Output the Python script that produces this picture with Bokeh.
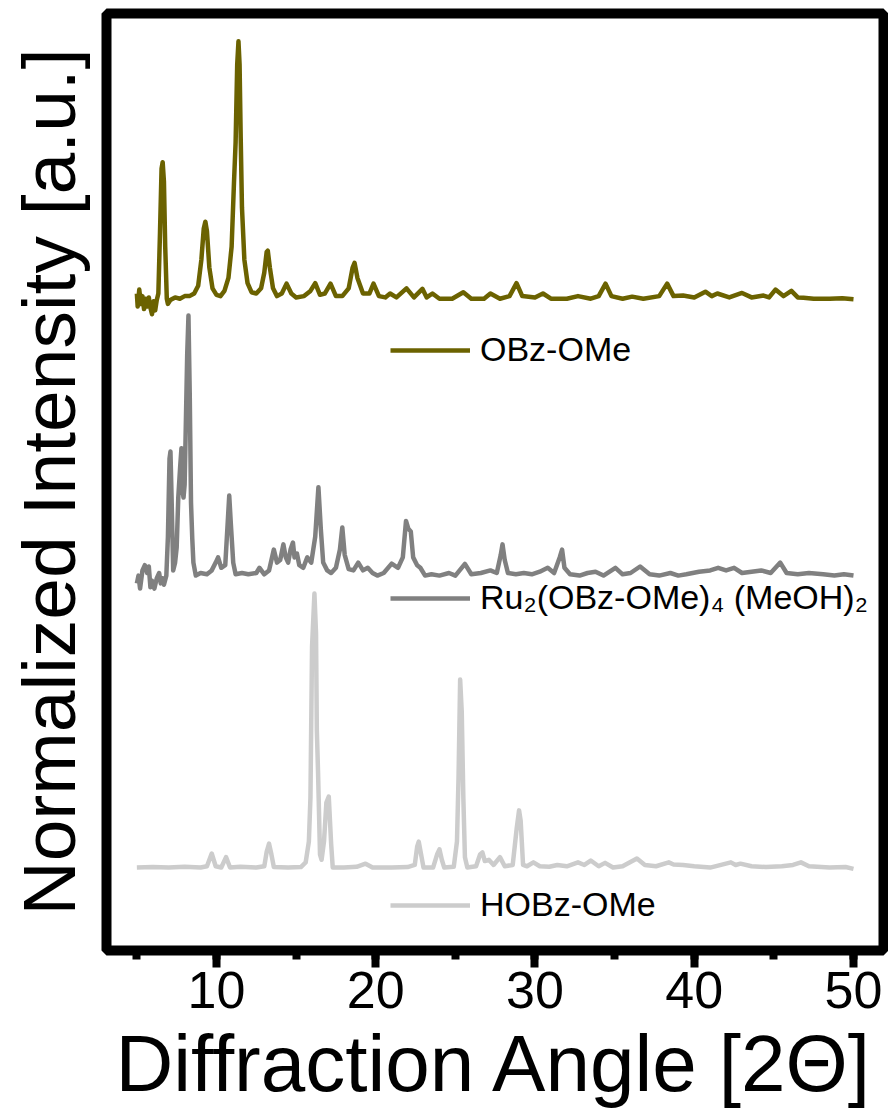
from bokeh.plotting import figure
from bokeh.models import Range1d, SingleIntervalTicker, FixedTicker, Legend, LegendItem
from bokeh.embed import file_html
from bokeh.resources import INLINE

# ---------------- data ----------------
# OBz-OMe (top trace), normalised intensity
angle_obz = [5.0, 5.05, 5.15, 5.25, 5.35, 5.45, 5.55, 5.65, 5.75, 5.85, 5.95, 6.05, 6.15, 6.25, 6.35,
             6.45, 6.55, 6.62, 6.70, 6.78, 6.88, 6.95, 7.1, 7.4, 7.7, 8.0, 8.3, 8.6, 8.85, 9.05, 9.2,
             9.3, 9.4, 9.55, 9.75, 10.0, 10.25, 10.5, 10.75, 10.95, 11.1, 11.2, 11.3, 11.38, 11.45,
             11.52, 11.6, 11.75, 11.95, 12.2, 12.5, 12.8, 13.0, 13.15, 13.22, 13.35, 13.55, 13.8,
             14.1, 14.4, 14.7, 15.0, 15.5, 15.9, 16.2, 16.5, 16.8, 17.16, 17.5, 17.9, 18.3, 18.55,
             18.67, 18.85, 19.2, 19.6, 19.86, 20.2, 20.6, 20.9, 21.3, 21.93, 22.4, 22.93, 23.2, 23.56,
             24.0, 24.8, 25.5, 26.0, 26.8, 27.2, 27.8, 28.4, 28.84, 29.2, 30.0, 30.5, 31.0, 32.0,
             32.7, 33.5, 34.0, 34.43, 34.8, 35.5, 36.1, 36.8, 37.8, 38.3, 38.7, 39.3, 40.0, 40.7,
             41.1, 41.45, 42.2, 43.0, 43.6, 44.35, 44.7, 45.1, 45.6, 46.1, 46.5, 46.86, 47.5, 48.5,
             49.3, 50.0]
int_obz = [0.02, -0.03, 0.035, -0.02, 0.01, -0.04, 0.0, -0.03, 0.005, -0.035, -0.06, -0.01, -0.045, -0.005, 0.02,
           0.25, 0.50, 0.525, 0.45, 0.2, 0.0, -0.02, -0.005, 0.005, 0.0, 0.01, 0.01, 0.02, 0.05, 0.15, 0.27,
           0.296, 0.26, 0.12, 0.04, 0.015, 0.01, 0.03, 0.08, 0.2, 0.45, 0.6, 0.9, 0.99, 0.9,
           0.62, 0.35, 0.15, 0.06, 0.025, 0.02, 0.04, 0.1, 0.18, 0.185, 0.12, 0.04, 0.01,
           0.02, 0.058, 0.02, 0.005, 0.01, 0.03, 0.06, 0.015, 0.02, 0.058, 0.01, 0.01, 0.04, 0.12,
           0.138, 0.08, 0.02, 0.02, 0.058, 0.01, 0.005, 0.02, 0.005, 0.04, 0.005, 0.038, 0.005, 0.02,
           0.0, 0.0, 0.025, 0.0, 0.0, 0.02, 0.0, 0.01, 0.06, 0.01, 0.005, 0.02, 0.0, 0.0,
           0.01, 0.0, 0.01, 0.058, 0.01, 0.0, 0.008, 0.0, 0.01, 0.058, 0.01, 0.012, 0.005, 0.027,
           0.01, 0.02, 0.005, 0.022, 0.005, 0.012, 0.005, 0.035, 0.01, 0.03, 0.005, 0.004, 0.0, 0.0,
           0.002, -0.002]

# Ru2(OBz-OMe)4(MeOH)2 (middle trace)
angle_ru = [5.0, 5.1, 5.2, 5.35, 5.5, 5.65, 5.75, 5.85, 5.95, 6.1, 6.25, 6.4, 6.5, 6.6, 6.7, 6.85,
            6.95, 7.05, 7.11, 7.18, 7.28, 7.4, 7.5, 7.6, 7.72, 7.8, 7.88, 7.93, 8.0, 8.08, 8.16, 8.24,
            8.32, 8.4, 8.48, 8.55, 8.7, 9.0, 9.4, 9.7, 9.95, 10.1, 10.3, 10.55, 10.7, 10.8, 10.9,
            11.05, 11.2, 11.6, 12.0, 12.5, 12.7, 13.0, 13.3, 13.6, 13.8, 14.0, 14.2, 14.35, 14.5,
            14.65, 14.8, 14.9, 15.05, 15.2, 15.45, 15.7, 15.95, 16.2, 16.4, 16.55, 16.7, 16.95, 17.2,
            17.5, 17.75, 17.9, 18.05, 18.3, 18.6, 18.9, 19.2, 19.5, 19.8, 20.1, 20.5, 21.0, 21.4,
            21.7, 21.9, 22.05, 22.2, 22.35, 22.6, 22.8, 23.1, 23.5, 24.0, 24.6, 25.0, 25.6, 26.0,
            26.6, 27.2, 27.6, 27.85, 27.96, 28.1, 28.3, 28.8, 29.3, 29.8, 30.3, 30.8, 31.2, 31.55,
            31.7, 31.85, 32.2, 32.8, 33.3, 33.8, 34.3, 35.05, 35.5, 36.0, 36.6, 37.2, 37.8, 38.5,
            39.0, 39.5, 40.3, 41.0, 41.5, 42.0, 42.5, 43.0, 43.6, 44.2, 44.8, 45.4, 45.8, 46.5,
            47.2, 48.1, 48.8, 49.4, 50.0]
int_ru = [-0.03, 0.0, -0.05, 0.02, 0.04, 0.01, 0.035, -0.045, -0.02, -0.05, -0.01, 0.01, -0.03, -0.01, -0.035, 0.0,
          0.15, 0.45, 0.477, 0.3, 0.02, 0.05, 0.108, 0.3, 0.42, 0.49, 0.32, 0.3, 0.35, 0.6, 0.85, 1.0,
          0.7, 0.28, 0.14, 0.05, 0.0, 0.01, 0.005, 0.02, 0.05, 0.07, 0.03, 0.04, 0.2, 0.308, 0.2,
          0.05, 0.005, 0.01, 0.005, 0.01, 0.03, 0.005, 0.02, 0.1, 0.05, 0.06, 0.12, 0.07, 0.05,
          0.1, 0.127, 0.07, 0.085, 0.04, 0.03, 0.07, 0.05, 0.15, 0.34, 0.18, 0.05, 0.02, 0.01,
          0.03, 0.1, 0.185, 0.08, 0.025, 0.02, 0.05, 0.02, 0.03, 0.01, 0.0, 0.01, 0.046, 0.03,
          0.07, 0.21, 0.18, 0.17, 0.07, 0.04, 0.03, 0.0, 0.005, 0.0, 0.01, 0.0, 0.045, 0.005,
          0.01, 0.02, 0.01, 0.08, 0.12, 0.06, 0.01, 0.005, 0.01, 0.005, 0.015, 0.03, 0.01, 0.07,
          0.1, 0.03, 0.005, 0.0, 0.01, 0.015, 0.0, 0.03, 0.005, 0.01, 0.035, 0.005, 0.0, 0.01,
          0.0, 0.005, 0.015, 0.02, 0.03, 0.02, 0.03, 0.01, 0.015, 0.02, 0.01, 0.05, 0.01, 0.005,
          0.01, 0.005, 0.0, 0.005, 0.0]

# HOBz-OMe (bottom trace)
angle_hobz = [5.0, 6.0, 7.0, 8.0, 9.0, 9.4, 9.7, 9.95, 10.3, 10.6, 10.85, 11.5, 12.5, 13.0, 13.15, 13.3,
              13.45, 13.6, 14.5, 15.3, 15.6, 15.8, 15.9, 16.0, 16.15, 16.25, 16.3, 16.38, 16.5, 16.6,
              16.75, 16.9, 17.05, 17.2, 17.3, 18.0, 18.8, 19.36, 19.8, 21.0, 22.0, 22.45, 22.6, 22.7,
              22.85, 23.0, 23.6, 23.85, 24.0, 24.15, 24.3, 24.9, 25.1, 25.2, 25.3, 25.4, 25.5, 25.6,
              25.75, 26.3, 26.55, 26.7, 26.85, 27.1, 27.4, 27.8, 28.1, 28.6, 28.85, 29.0, 29.1, 29.25,
              29.5, 29.9, 30.3, 30.9, 31.4, 32.0, 32.7, 33.1, 33.5, 34.0, 34.4, 34.9, 35.5, 36.4, 36.9,
              37.6, 38.4, 38.7, 39.3, 40.0, 41.0, 42.3, 42.6, 42.9, 43.6, 44.5, 45.5, 46.2, 46.7, 47.2,
              48.5, 49.5, 50.0]
int_hobz = [0.0, 0.002, 0.0, 0.003, 0.0, 0.005, 0.054, 0.005, 0.0, 0.04, 0.0, 0.003, 0.0, 0.005, 0.06, 0.092,
            0.05, 0.002, 0.0, 0.002, 0.02, 0.1, 0.27, 0.85, 1.054, 0.9, 0.53, 0.36, 0.05, 0.03,
            0.1, 0.25, 0.273, 0.09, 0.0, 0.0, 0.003, 0.015, 0.0, 0.0, 0.002, 0.01, 0.08, 0.1,
            0.05, 0.0, 0.0, 0.05, 0.07, 0.03, 0.0, 0.003, 0.1, 0.35, 0.723, 0.6, 0.27, 0.04,
            0.0, 0.005, 0.05, 0.058, 0.025, 0.03, 0.01, 0.04, 0.005, 0.01, 0.15, 0.22, 0.18, 0.01,
            0.005, 0.02, 0.005, 0.003, 0.01, 0.005, 0.02, 0.01, 0.027, 0.005, 0.018, 0.0, 0.005, 0.035, 0.01,
            0.005, 0.02, 0.012, 0.01, 0.005, 0.0, 0.02, 0.01, 0.015, 0.005, 0.002, 0.005, 0.01, 0.02, 0.005,
            0.0, 0.002, -0.005]

labels = ["OBz-OMe", "Ru\u2082(OBz-OMe)\u2084 (MeOH)\u2082", "HOBz-OMe"]
colors = ["#6b6200", "#808080", "#cccccc"]
offsets = [2.188, 1.123, 0.0]   # vertical stacking of the traces

x_ticks_interval = 10

FONT = "Liberation Sans"

p = figure(frame_width=777, frame_height=937,
           x_range=Range1d(3.093, 51.884), y_range=Range1d(-0.319, 3.285),
           output_backend="svg", toolbar_location=None,
           min_border_left=106, min_border_top=13, min_border_right=5, min_border_bottom=0)

p.outline_line_color = "black"
p.outline_line_width = 10
p.xgrid.visible = False
p.ygrid.visible = False
p.background_fill_color = "white"
p.border_fill_color = "white"

# x axis
p.xaxis.ticker = SingleIntervalTicker(interval=x_ticks_interval, num_minor_ticks=2)
p.xaxis.axis_line_color = None
p.xaxis.major_tick_line_width = 8
p.xaxis.minor_tick_line_width = 8
p.xaxis.major_tick_line_color = "black"
p.xaxis.minor_tick_line_color = "black"
p.xaxis.major_tick_in = 0
p.xaxis.major_tick_out = 17
p.xaxis.minor_tick_in = 0
p.xaxis.minor_tick_out = 9
p.xaxis.major_label_text_font = FONT
p.xaxis.major_label_text_font_size = "52px"
p.xaxis.major_label_text_color = "black"
p.xaxis.major_label_standoff = 4
p.xaxis.axis_label = "Diffraction Angle [2\u0398]"
p.xaxis.axis_label_text_font = FONT
p.xaxis.axis_label_text_font_size = "80px"
p.xaxis.axis_label_text_font_style = "normal"
p.xaxis.axis_label_text_color = "black"
p.xaxis.axis_label_standoff = 8

# y axis (title only)
p.yaxis.ticker = FixedTicker(ticks=[])
p.yaxis.axis_line_color = None
p.yaxis.major_tick_line_color = None
p.yaxis.minor_tick_line_color = None
p.yaxis.axis_label = "Normalized Intensity [a.u.]"
p.yaxis.axis_label_text_font = FONT
p.yaxis.axis_label_text_font_size = "75px"
p.yaxis.axis_label_text_font_style = "normal"
p.yaxis.axis_label_text_color = "black"
p.yaxis.axis_label_standoff = 16

series = [(angle_obz, int_obz), (angle_ru, int_ru), (angle_hobz, int_hobz)]
legend_y = [581, 333, 26]   # screen offset of each legend from frame bottom

for (ang, inten), lab, col, off, ly in zip(series, labels, colors, offsets, legend_y):
    r = p.line(ang, [v + off for v in inten], line_color=col, line_width=4.5, line_join="round")
    leg = Legend(items=[LegendItem(label=lab, renderers=[r])], location=(284, ly),
                 border_line_color=None, background_fill_alpha=0, padding=0, margin=0,
                 spacing=0, glyph_width=80, glyph_height=34, label_height=34,
                 label_standoff=10, label_text_font=FONT, label_text_font_size="34px",
                 label_text_color="black")
    p.add_layout(leg)

open("out.html", "w").write(file_html(p, INLINE))
